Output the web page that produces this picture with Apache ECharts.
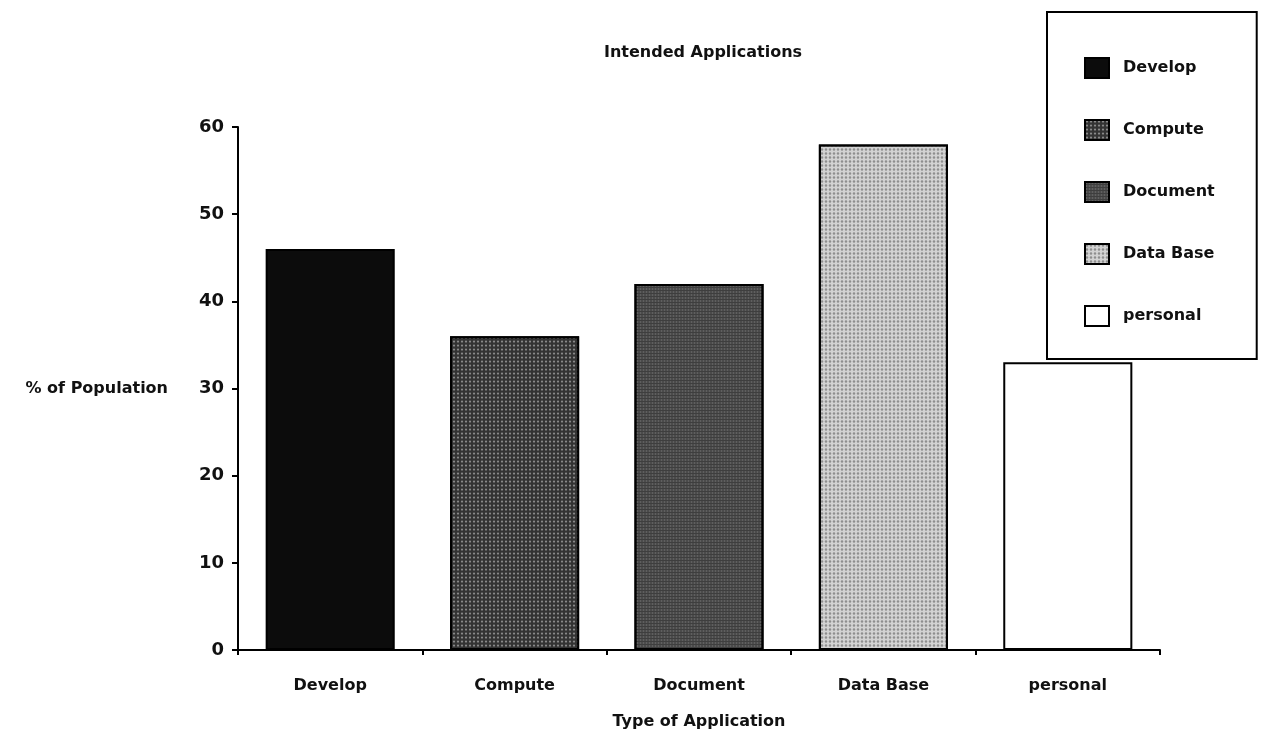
<!DOCTYPE html>
<html>
<head>
<meta charset="utf-8">
<title>Intended Applications</title>
<script src="https://cdn.jsdelivr.net/npm/echarts@6/dist/echarts.min.js"></script>
<style>
  html, body { margin: 0; padding: 0; background: #fff; }
  #chart { width: 1270px; height: 738px; }
</style>
</head>
<body>
<div id="chart"></div>
<script>
// Survey data: share of population by intended application type
const categories = ['Develop', 'Compute', 'Document', 'Data Base', 'personal'];
const percentages = [46, 36, 42, 58, 33];
const yTicks = [0, 10, 20, 30, 40, 50, 60];

// Fill styles for each application type
const fills = [
  { color: '#0c0c0c', decal: null },
  { color: '#333333', decal: { symbol: 'circle', symbolSize: 0.75, dashArrayX: [[4, 0]], dashArrayY: [3, 1], color: '#8a8a8a', rotation: 0 } },
  { color: '#3e3e3e', decal: { symbol: 'rect', symbolSize: 0.6, dashArrayX: [[3, 0]], dashArrayY: [2, 1], color: '#777777', rotation: 0 } },
  { color: '#d2d2d2', decal: { symbol: 'circle', symbolSize: 0.8, dashArrayX: [[4, 0]], dashArrayY: [3, 1], color: '#8e8e8e', rotation: 0 } },
  { color: '#ffffff', decal: null }
];

const FONT = 'DejaVu Sans';
const chart = echarts.init(document.getElementById('chart'), null, { renderer: 'canvas' });

const series = categories.map((name, i) => ({
  name: name,
  type: 'bar',
  stack: 'apps',
  barWidth: '70%',
  data: categories.map((_, j) => (j === i ? percentages[i] : '-')),
  itemStyle: Object.assign(
    { color: fills[i].color, borderColor: '#000', borderWidth: 2 },
    fills[i].decal ? { decal: fills[i].decal } : {}
  ),
  emphasis: { disabled: true },
  animation: false
}));

chart.setOption({
  animation: false,
  backgroundColor: '#ffffff',
  title: {
    text: 'Intended Applications',
    left: 599,
    top: 40,
    textStyle: { fontFamily: FONT, fontSize: 16, fontWeight: 'bold', color: '#111' }
  },
  legend: {
    orient: 'vertical',
    left: 1047,
    top: 12,
    data: categories,
    icon: 'rect',
    itemWidth: 24,
    itemHeight: 20,
    itemGap: 40,
    padding: [45, 42, 32, 37],
    backgroundColor: '#fff',
    borderColor: '#000',
    borderWidth: 2,
    borderRadius: 0,
    textStyle: { fontFamily: FONT, fontSize: 16, fontWeight: 'bold', color: '#111', padding: [0, 0, 0, 9] },
    selectedMode: false
  },
  grid: { left: 238, right: 110, top: 127, bottom: 88 },
  xAxis: {
    type: 'category',
    data: categories,
    boundaryGap: true,
    name: 'Type of Application',
    nameLocation: 'middle',
    nameGap: 64,
    nameTextStyle: { fontFamily: FONT, fontSize: 16, fontWeight: 'bold', color: '#111' },
    axisLine: { show: true, lineStyle: { color: '#000', width: 2 } },
    axisTick: { show: true, length: 5, lineStyle: { color: '#000', width: 2 } },
    axisLabel: { margin: 28, fontFamily: FONT, fontSize: 16, fontWeight: 'bold', color: '#111' },
    splitLine: { show: false }
  },
  yAxis: {
    type: 'value',
    min: yTicks[0],
    max: yTicks[yTicks.length - 1],
    interval: yTicks[1] - yTicks[0],
    name: '% of Population',
    nameLocation: 'middle',
    nameRotate: 0,
    nameGap: 70,
    nameTextStyle: { fontFamily: FONT, fontSize: 16, fontWeight: 'bold', color: '#111' },
    axisLine: { show: true, lineStyle: { color: '#000', width: 2 } },
    axisTick: { show: true, length: 6, lineStyle: { color: '#000', width: 2 } },
    axisLabel: { margin: 14, fontFamily: FONT, fontSize: 18, fontWeight: 'bold', color: '#111' },
    splitLine: { show: false }
  },
  series: series
});
</script>
</body>
</html>
